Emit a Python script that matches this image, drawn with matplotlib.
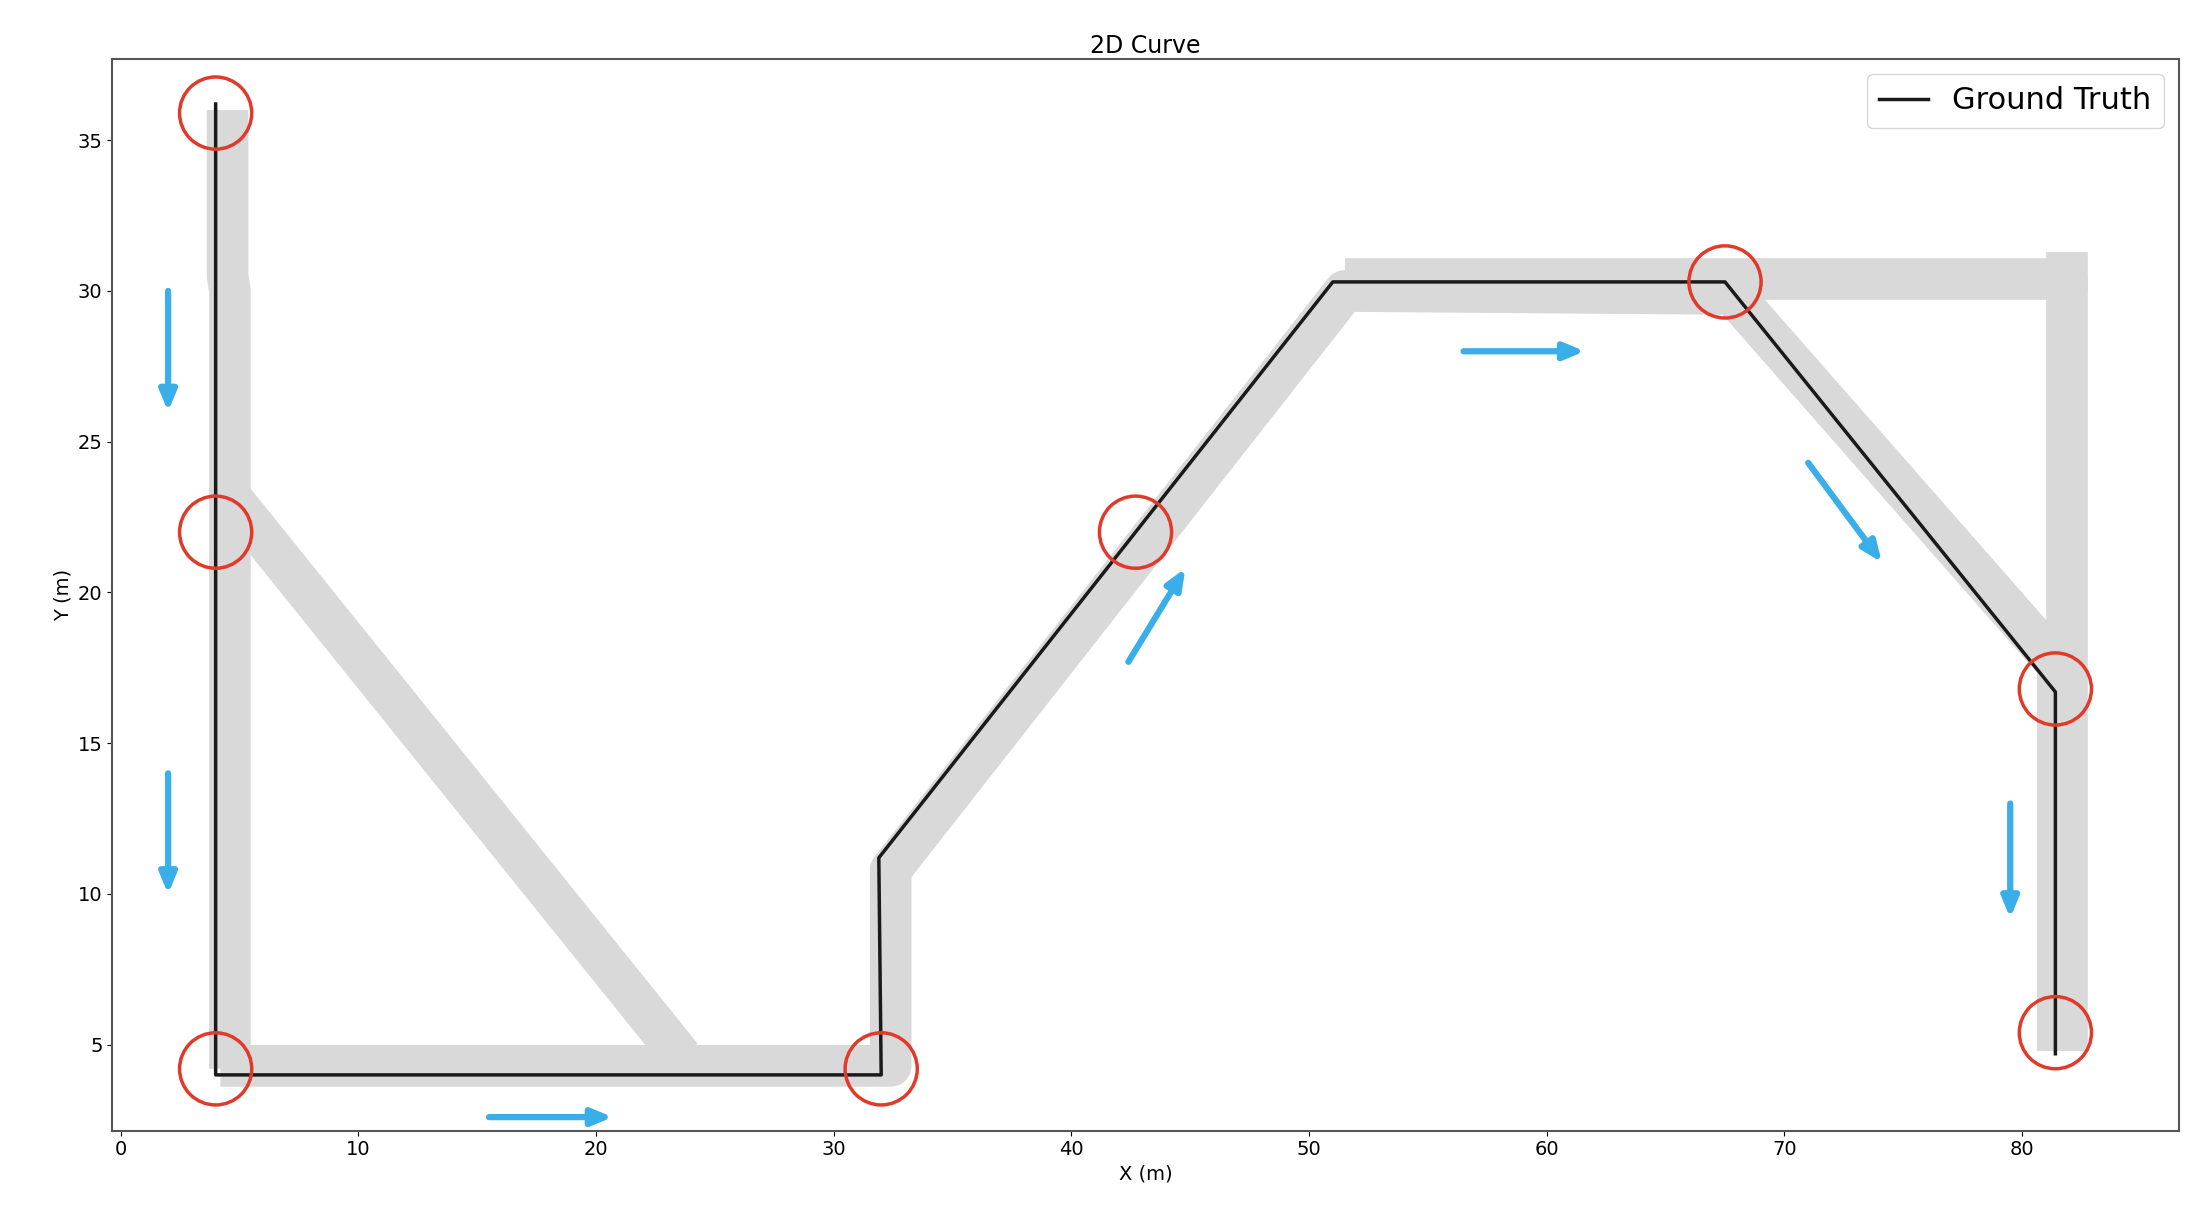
import numpy as np
import matplotlib
matplotlib.use('Agg')
from matplotlib import pyplot as plt

# ground truth path
gt_x = [4.0, 4.0, 32.0, 31.9, 51.0, 67.5, 81.4, 81.4]
gt_y = [36.2, 4.0, 4.0, 11.2, 30.3, 30.3, 16.7, 4.7]

# estimated trajectory (gray band), drawn as several strokes
est_segments = [
    ([4.5, 4.5, 4.6, 4.6], [36.0, 30.5, 30.0, 4.2]),
    ([4.8, 23.6], [23.0, 4.6]),
    ([4.2, 32.4, 32.4, 51.5, 67.8, 81.5, 81.5], [4.3, 4.3, 10.8, 30.0, 29.9, 17.6, 4.8]),
    ([51.5, 81.9, 81.9], [30.4, 30.4, 4.8]),
    ([81.9, 81.9], [30.0, 31.3]),
]

# key points (red circles)
key_x = [4.0, 4.0, 4.0, 32.0, 42.7, 67.5, 81.4, 81.4]
key_y = [35.9, 22.0, 4.2, 4.2, 22.0, 30.3, 16.8, 5.4]

# direction arrows: start and end
arrow_start = [(2.0, 30.0), (2.0, 14.0), (15.5, 2.6), (42.4, 17.7), (56.5, 28.0), (71.0, 24.3), (79.5, 13.0)]
arrow_end = [(2.0, 26.0), (2.0, 10.0), (20.7, 2.6), (44.8, 20.8), (61.6, 28.0), (74.1, 21.0), (79.5, 9.2)]

fig = plt.figure(figsize=(22.01, 12.25), dpi=100)
ax = fig.add_axes([0.051, 0.077, 0.939, 0.875])

for sx, sy in est_segments:
    ax.plot(sx, sy, color='#d9d9d9', linewidth=30, solid_capstyle='butt',
            solid_joinstyle='round', zorder=1)

ax.plot(gt_x, gt_y, color='#1a1a1a', linewidth=2.5, label='Ground Truth', zorder=3)
ax.scatter(key_x, key_y, s=2700, facecolors='none', edgecolors='#e03a2a',
           linewidths=2.5, zorder=4)

for (x0, y0), (x1, y1) in zip(arrow_start, arrow_end):
    ax.annotate('', xy=(x1, y1), xytext=(x0, y0),
                arrowprops=dict(arrowstyle='-|>,head_length=1.2,head_width=0.5',
                                color='#3aaee8', lw=4.5, shrinkA=0, shrinkB=0),
                zorder=5)

ax.set_xlim(-0.35, 86.6)
ax.set_ylim(2.15, 37.7)
ax.set_xticks(np.arange(0, 81, 10))
ax.set_yticks(np.arange(5, 36, 5))
ax.tick_params(labelsize=14)
ax.set_title('2D Curve', fontsize=17, pad=4)
ax.set_xlabel('X (m)', fontsize=14)
ax.set_ylabel('Y (m)', fontsize=14)
for sp in ax.spines.values():
    sp.set_color('#555555')
    sp.set_linewidth(1.5)
ax.legend(loc='upper right', fontsize=22, handlelength=1.6)

fig.savefig('out.png', dpi=100)
